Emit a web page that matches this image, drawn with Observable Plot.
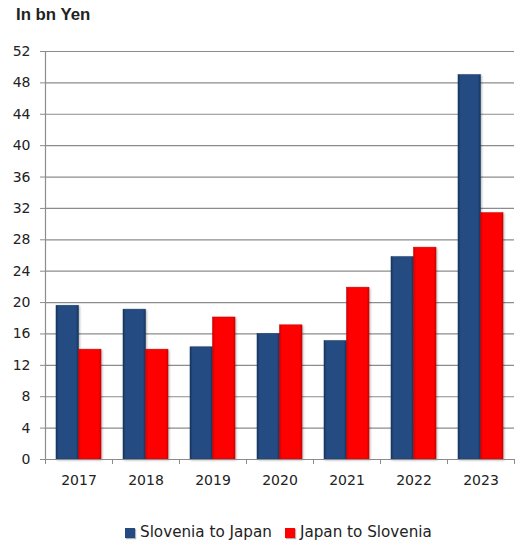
<!DOCTYPE html>
<html>
<head>
<meta charset="utf-8">
<script src="https://cdn.jsdelivr.net/npm/d3@7"></script>
<script src="https://cdn.jsdelivr.net/npm/@observablehq/plot@0.6"></script>
<style>
  html, body { margin: 0; padding: 0; background: #fff; }
  #wrap { position: relative; width: 520px; height: 542px; overflow: hidden; }
  #title { position: absolute; left: 16px; top: 7px; line-height: 16px; font-family: "Liberation Sans", Arial, sans-serif; font-weight: bold; font-size: 16.8px; color: #222; }
  #legend { position: absolute; left: 125px; top: 524px; line-height: 16px; font-family: "DejaVu Sans", sans-serif; font-size: 15.2px; color: #222; white-space: nowrap; }
  #legend span.item { display: inline-block; margin-right: 13px; }
  #legend span.sw { display: inline-block; width: 10px; height: 10px; margin-right: 5px; vertical-align: -1px; box-shadow: 1px 1px 1px rgba(0,0,0,0.3); }
</style>
</head>
<body>
<div id="wrap">
  <div id="title"></div>
  <div id="chart"></div>
  <div id="legend"></div>
</div>
<script>
const titleText = "In bn Yen";
const years = ["2017", "2018", "2019", "2020", "2021", "2022", "2023"];
const seriesNames = ["Slovenia to Japan", "Japan to Slovenia"];
const sloveniaToJapan = [19.6, 19.1, 14.3, 16.0, 15.1, 25.8, 49.0];
const japanToSlovenia = [14.0, 14.0, 18.1, 17.1, 21.9, 27.0, 31.4];
const yTicks = [0, 4, 8, 12, 16, 20, 24, 28, 32, 36, 40, 44, 48, 52];
const colors = ["#234B80", "#FF0000"];

const dataA = years.map((year, i) => ({year, value: sloveniaToJapan[i]}));
const dataB = years.map((year, i) => ({year, value: japanToSlovenia[i]}));

const W = 520, H = 542, mL = 45, mR = 6;
const half = (W - mL - mR) / years.length / 2;
const gridColor = "#8c8c8c";

const chart = Plot.plot({
  width: W,
  height: H,
  marginLeft: mL,
  marginRight: mR,
  marginTop: 51,
  marginBottom: 83,
  style: {fontFamily: "'DejaVu Sans', sans-serif", fontSize: "14px", color: "#222", background: "transparent"},
  x: {domain: years, padding: 0, label: null},
  y: {domain: [0, 52], label: null},
  marks: [
    Plot.gridY(yTicks, {stroke: gridColor, strokeOpacity: 1, strokeWidth: 1.2}),
    Plot.axisY(yTicks, {tickSize: 5, tickPadding: 10, stroke: gridColor, label: null, fontSize: 14}),
    Plot.ruleX([years[0]], {dx: -half, stroke: gridColor, strokeWidth: 1.2}),
    Plot.barY(dataA, {x: "year", y: "value", fill: "url(#gradBlue)", insetLeft: 11, insetRight: half, stroke: "#1a3a66", strokeWidth: 0.5}),
    Plot.barY(dataB, {x: "year", y: "value", fill: "url(#gradRed)", insetLeft: half, insetRight: 11, stroke: "#c40000", strokeWidth: 0.5}),
    Plot.ruleY([0], {stroke: gridColor, strokeWidth: 1.2}),
    Plot.axisX(years, {tickSize: 5, text: null, dx: -half, stroke: gridColor, label: null}),
    Plot.axisX([years[years.length - 1]], {tickSize: 5, text: null, dx: half, stroke: gridColor, label: null}),
    Plot.axisX(years, {tickSize: 0, tickPadding: 16, label: null, fontSize: 14})
  ]
});

const defs = document.createElementNS("http://www.w3.org/2000/svg", "defs");
defs.innerHTML = `
  <linearGradient id="gradBlue" x1="0" x2="1" y1="0" y2="0">
    <stop offset="0" stop-color="#16345c"/>
    <stop offset="0.12" stop-color="#244c82"/>
    <stop offset="0.88" stop-color="#244c82"/>
    <stop offset="1" stop-color="#16345c"/>
  </linearGradient>
  <linearGradient id="gradRed" x1="0" x2="1" y1="0" y2="0">
    <stop offset="0" stop-color="#d40000"/>
    <stop offset="0.12" stop-color="#ff0000"/>
    <stop offset="0.88" stop-color="#ff0000"/>
    <stop offset="1" stop-color="#d40000"/>
  </linearGradient>`;
chart.insertBefore(defs, chart.firstChild);
chart.querySelectorAll("rect").forEach(r => r.style.filter = "drop-shadow(1px 1px 1px rgba(0,0,0,0.3))");

document.getElementById("chart").appendChild(chart);
document.getElementById("title").textContent = titleText;

const legend = document.getElementById("legend");
seriesNames.forEach((name, i) => {
  const item = document.createElement("span");
  item.className = "item";
  const sw = document.createElement("span");
  sw.className = "sw";
  sw.style.background = colors[i];
  item.appendChild(sw);
  item.appendChild(document.createTextNode(name));
  legend.appendChild(item);
});
</script>
</body>
</html>
